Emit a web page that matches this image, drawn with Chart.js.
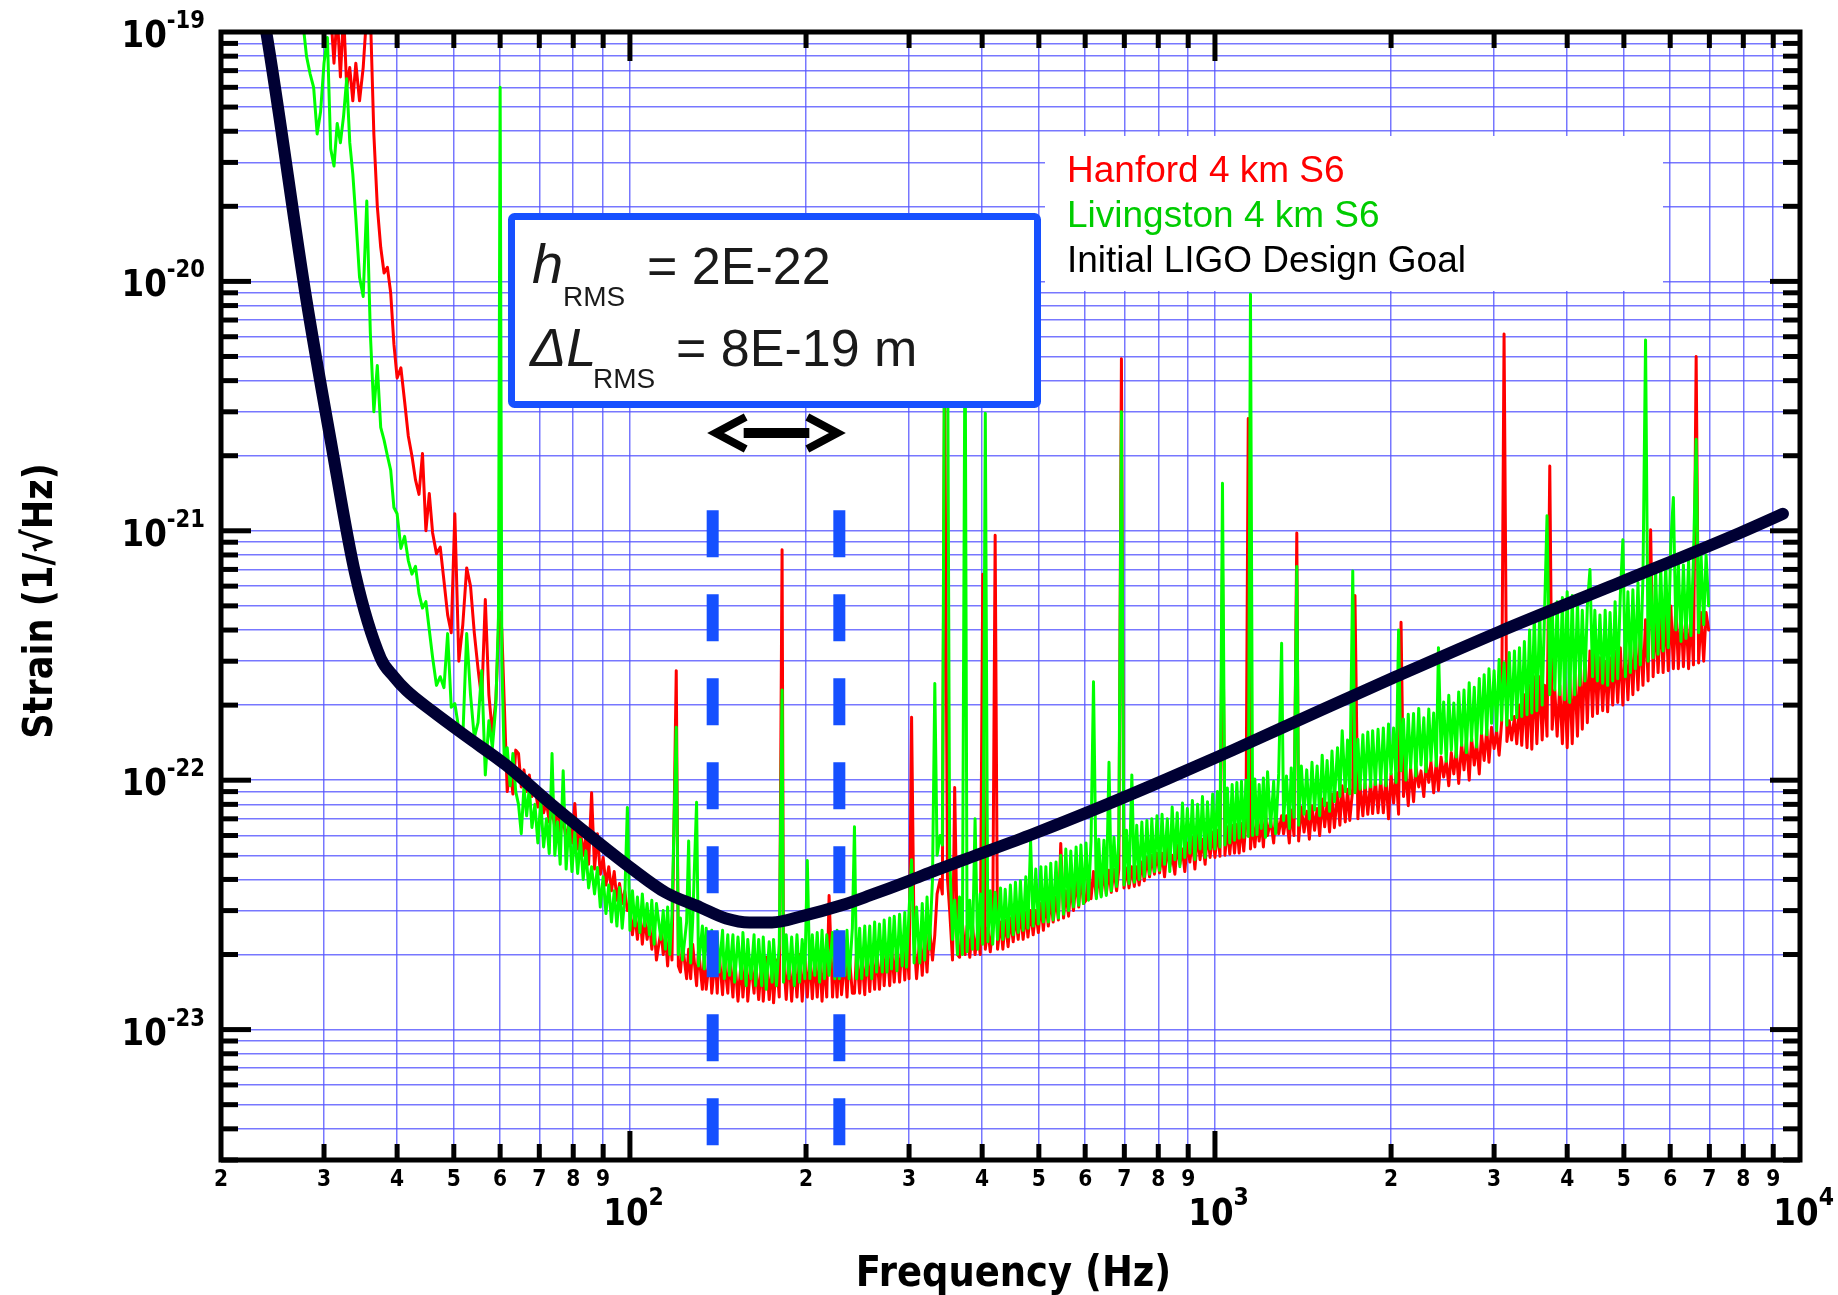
<!DOCTYPE html>
<html>
<head>
<meta charset="utf-8">
<title>LIGO S6 strain sensitivity</title>
<script src="https://cdn.jsdelivr.net/npm/chart.js@4.4.1/dist/chart.umd.min.js"></script>
<style>
    html, body { margin: 0; padding: 0; background: #fff; }
    #wrap { width: 1838px; height: 1295px; }
</style>
</head>
<body>
<div id="wrap"><canvas id="strain-chart" width="1838" height="1295"></canvas></div>
<script>
// strain values are in units of 1e-23 / sqrt(Hz), frequencies in Hz
const freqHz = [
    27.6, 28.0, 28.4, 28.8, 29.2, 29.6, 30.0, 30.4,
    30.8, 31.2, 31.6, 32.0, 32.4, 32.8, 33.2, 33.6, 34.0,
    34.5, 35.0, 35.5, 36.0, 36.5, 37.0, 37.5, 38.0, 38.5, 39.0, 39.5, 40.0,
    40.6, 41.2, 41.8, 42.4, 43.0, 43.6, 44.2, 44.8, 45.4, 46.0,
    46.7, 47.4, 48.1, 48.8, 49.5, 50.2,
    51.0, 51.8, 52.6, 53.4, 54.2, 55.0, 55.8, 56.6, 57.4, 58.2, 59.0,
    59.6, 60.0, 60.4,
    61.0, 61.7, 62.4, 63.1, 63.8, 64.5, 65.2, 65.9, 66.6, 67.3,
    68.0, 68.8, 69.6, 70.4, 71.2, 72.0, 72.8, 73.6, 74.4, 75.2,
    76.0, 76.9, 77.8, 78.7, 79.6, 80.5, 81.4, 82.3, 83.2, 84.1,
    85.0, 86.0, 87.0, 88.0, 89.0, 90.0, 91.0, 92.0, 93.0, 94.0,
    95.0, 96.0, 97.0, 98.0, 99.0,
    100, 101, 102, 103, 104, 105, 106, 107, 108, 109,
    110, 111, 113, 114, 115, 116, 117, 118, 120, 121,
    122, 123, 125, 126, 127, 128, 130, 131, 133, 134,
    135, 137, 138, 140, 141, 142, 144, 145, 147, 148,
    150, 151, 153, 155, 156, 158, 159, 161, 163, 164,
    166, 168, 169, 171, 173, 175, 176, 178, 180, 182,
    183, 185, 187, 189, 191, 193, 195, 197, 199, 201,
    203, 205, 207, 209, 211, 213, 215, 217, 219, 222,
    224, 226, 228, 230, 233, 235, 237, 240, 242, 244,
    247, 249, 252, 254, 257, 259, 262, 264, 267, 270,
    272, 275, 278, 280, 283, 286, 289, 292, 295, 297,
    300, 303, 306, 309, 313, 316, 319, 322, 325, 329,
    332, 335, 339, 342, 345, 349, 352, 356, 359, 363,
    366, 370, 374, 377, 381, 385, 389, 393, 397, 401,
    405, 409, 413, 417, 421, 425, 430, 434, 438, 443,
    447, 452, 456, 461, 465, 470, 475, 479, 484, 489,
    494, 499, 504, 509, 514, 519, 524, 529, 535, 540,
    545, 551, 556, 562, 567, 573, 579, 585, 590, 596,
    602, 608, 614, 620, 627, 633, 639, 646, 652, 659,
    665, 672, 679, 685, 692, 699, 706, 713, 721, 728,
    735, 742, 750, 757, 765, 773, 780, 788, 796, 804,
    812, 820, 829, 837, 845, 854, 862, 871, 880, 888,
    897, 906, 915, 924, 934, 943, 952, 962, 971, 981,
    991, 1000, 1010, 1020, 1030, 1040, 1050, 1060, 1070, 1080,
    1090, 1100, 1110, 1120, 1130, 1140, 1150, 1160, 1170, 1180,
    1190, 1200, 1210, 1220, 1230, 1245, 1260, 1270, 1285, 1300,
    1310, 1325, 1340, 1350, 1365, 1380, 1390, 1405, 1420, 1435,
    1450, 1465, 1480, 1495, 1510, 1525, 1540, 1555, 1570, 1585,
    1600, 1620, 1635, 1650, 1670, 1685, 1700, 1720, 1735, 1755,
    1770, 1790, 1805, 1825, 1845, 1860, 1880, 1900, 1920, 1940,
    1960, 1980, 2000, 2020, 2040, 2060, 2080, 2100, 2120, 2140,
    2160, 2185, 2205, 2230, 2250, 2275, 2295, 2320, 2340, 2365,
    2390, 2410, 2435, 2460, 2485, 2510, 2535, 2560, 2585, 2610,
    2640, 2665, 2690, 2720, 2745, 2775, 2800, 2830, 2855, 2885,
    2915, 2940, 2970, 3000, 3030, 3060, 3090, 3120, 3155, 3185,
    3215, 3250, 3280, 3315, 3345, 3380, 3415, 3450, 3480, 3515,
    3550, 3590, 3625, 3660, 3695, 3735, 3770, 3810, 3845, 3885,
    3925, 3960, 4000, 4040, 4080, 4120, 4165, 4205, 4245, 4290,
    4330, 4375, 4420, 4460, 4505, 4550, 4600, 4645, 4690, 4735,
    4785, 4830, 4880, 4930, 4980, 5030, 5080, 5130, 5180, 5230,
    5285, 5335, 5390, 5445, 5500, 5555, 5610, 5665, 5720, 5780,
    5835, 5895, 5955, 6015, 6075, 6135, 6195, 6260, 6320, 6385,
    6450, 6510, 6575, 6645, 6710, 6775, 6845, 6910, 6980
];

const hanford = [
    null, null, null, null, null, null, null, null,
    12000, 7500, 12000, 6600, 12000, 6000, 7200, 5300, 7500,
    5300, 7200, 12000, 12000, 3900, 2000, 1370, 1080, 1140, 900, 560, 410,
    450, 330, 240, 200, 160, 140, 204, 100, 141, 98,
    81, 86, 63, 46, 39, 117,
    30, 42, 71, 60, 39, 28, 21, 53, 22, 15.4, 21,
    39, 47, 40,
    20, 9.0, 11.2, 8.8, 13.2, 12.8, 9.4, 11.0, 9.0, 10.5,
    8.6, 9.5, 7.8, 8.5, 7.4, 8.2, 6.8, 7.6, 6.5, 7.8,
    6.2, 7.0, 5.8, 6.8, 5.6, 8.07, 5.3, 6.3, 5.0, 6.0,
    4.6, 8.9, 4.4, 6.1, 4.2, 4.9, 3.8, 4.5, 3.6, 4.3,
    3.3, 3.85, 3.2, 3.6, 3.0,
    3.1, 2.4, 2.9, 2.3, 3.0, 2.2, 2.8, 2.3, 2.7, 2.1,
    2.6, 1.9, 2.5, 2.0, 2.4, 1.8, 2.5, 1.9, 27.5, 1.8,
    1.7, 2.2, 1.6, 2.1, 1.6, 2.2, 1.5, 2.1, 1.45, 2.0,
    1.45, 2.0, 1.4, 1.95, 1.4, 2.05, 1.38, 1.9, 1.4, 2.0,
    1.35, 1.95, 1.3, 1.9, 1.35, 2.0, 1.3, 1.85, 1.4, 1.9,
    1.32, 1.9, 1.3, 1.95, 1.32, 1.85, 1.28, 1.9, 1.35, 84,
    1.95, 1.32, 2.0, 1.3, 1.9, 1.35, 2.0, 1.3, 1.95, 1.35,
    2.0, 1.33, 1.95, 1.35, 2.0, 1.3, 1.9, 1.35, 3.45, 1.35,
    2.0, 1.35, 2.05, 1.38, 1.95, 1.35, 2.0, 1.4, 1.4, 2.05,
    1.4, 2.0, 1.38, 2.1, 1.42, 2.05, 1.45, 2.1, 1.45, 2.15,
    1.5, 2.2, 1.5, 2.15, 1.55, 2.25, 1.55, 2.3, 1.58, 2.25,
    1.6, 17.9, 2.3, 1.6, 2.35, 1.65, 2.4, 1.7, 2.6, 1.9,
    2.4, 3.5, 4.0, 3.5, 500, 4.0, 3.0, 1.9, 9.35, 2.0,
    1.95, 2.7, 2.0, 2.6, 1.95, 2.65, 2.0, 2.5, 2.0, 67,
    2.1, 2.55, 2.05, 2.6, 96, 2.1, 2.7, 2.1, 2.75, 2.15,
    2.8, 2.25, 2.9, 2.3, 3.0, 2.3, 2.95, 2.35, 3.0, 2.4,
    3.0, 2.45, 3.2, 2.5, 3.3, 2.6, 3.4, 2.7, 3.4, 2.75,
    5.58, 2.8, 3.6, 2.85, 3.8, 3.0, 4.0, 3.1, 4.2, 3.2,
    3.3, 4.2, 3.35, 4.3, 3.4, 4.25, 3.45, 4.3, 3.5, 4.35,
    3.55, 4.4, 3.6, 4.4, 490, 3.7, 4.45, 3.7, 4.5, 3.75,
    4.5, 3.8, 4.7, 3.95, 4.9, 4.1, 5.0, 4.2, 5.1, 4.25,
    5.1, 4.1, 5.4, 4.5, 5.0, 4.2, 5.5, 4.6, 5.3, 4.3,
    5.6, 4.7, 5.9, 4.4, 6.1, 4.8, 5.8, 4.6, 6.2, 4.9,
    6.2, 4.9, 6.3, 4.95, 75, 5.0, 6.5, 5.05, 6.6, 5.1,
    6.65, 5.1, 6.7, 5.2, 6.8, 282, 5.3, 6.9, 5.4, 7.0,
    5.7, 7.1, 5.4, 7.4, 6.0, 6.9, 5.6, 7.5, 6.1, 7.2,
    6.1, 7.2, 5.6, 7.6, 6.0, 98, 5.7, 7.8, 6.2, 7.5,
    5.8, 7.9, 6.3, 7.7, 6.0, 8.4, 6.5, 8.1, 6.2, 8.8,
    6.45, 8.9, 6.6, 9.5, 6.8, 9.2, 6.9, 9.3, 55, 7.0,
    9.6, 7.2, 9.7, 7.3, 9.9, 7.35, 10.0, 7.4, 10.1, 7.4,
    10.3, 7.0, 10.6, 8.1, 10.7, 7.3, 43, 8.6, 11.0, 7.9,
    11.2, 8.2, 11.4, 9.4, 10.9, 8.6, 11.7, 9.8, 11.9, 8.9,
    12.0, 9.1, 12.4, 10.3, 12.0, 9.5, 12.9, 10.6, 13.2, 9.7,
    14.0, 11.0, 14.5, 10.0, 14.8, 11.5, 14.2, 10.6, 15.4, 12.0,
    16.0, 11.8, 16.3, 13.4, 15.8, 12.6, 17.0, 615, 14.3, 17.3,
    14.5, 18.0, 14.0, 20.0, 13.8, 22.0, 13.5, 24.0, 13.3, 26.0,
    14.0, 26.0, 14.5, 24.0, 15.0, 182, 16.0, 23.0, 15.0, 24.0,
    14.0, 26.0, 13.5, 27.0, 14.0, 28.0, 15.0, 30.0, 16.0, 32.0,
    17.0, 33.0, 18.0, 32.0, 18.5, 31.0, 19.0, 30.0, 18.8, 31.0,
    20.0, 33.0, 20.5, 34.0, 20.0, 35.0, 21.0, 36.0, 22.0, 38.0,
    23.0, 40.0, 24.0, 44.0, 25.0, 101, 26.0, 46.0, 27.0, 47.0,
    27.0, 48.0, 27.5, 50.0, 28.0, 50.0, 28.0, 48.0, 28.5, 47.0,
    28.0, 47.0, 29.0, 500, 29.5, 47.0, 30.0, 47.0, 40.0
];

const livingston = [
    11000, 8000, 6800, 6000, 3900, 4800, 7500, 9500,
    3400, 2900, 4300, 3600, 4600, 6500, 3600, 2700, 1800,
    1040, 870, 2100, 620, 300, 460, 260, 231, 200, 175, 124, 117,
    85, 95, 76, 67, 72, 56, 49, 52, 40, 31,
    24, 26, 23.5, 38.7, 19.6, 20.3,
    16, 14.8, 38.7, 22, 14.8, 17, 27.5, 10.5, 17.3, 13.5, 20,
    45, 6000, 30,
    11.7, 13.5, 9.5, 12.8, 9.0, 8.0, 6.1, 9.4, 7.2, 9.35,
    6.46, 8.0, 5.6, 8.29, 5.4, 7.0, 5.08, 12.8, 5.0, 6.8,
    4.6, 10.9, 4.4, 6.89, 4.3, 6.2, 4.23, 5.8, 4.0, 5.2,
    3.7, 4.5, 3.5, 4.47, 3.1, 4.1, 2.92, 3.8, 2.7, 3.6,
    2.6, 3.71, 2.55, 3.4, 7.78,
    2.5, 3.6, 2.6, 3.4, 2.45, 3.5, 2.6, 3.2, 2.4, 3.3,
    2.2, 3.2, 2.3, 3.0, 2.1, 3.1, 2.0, 2.9, 16.3, 2.0,
    2.8, 1.9, 2.7, 5.7, 1.85, 2.7, 8.15, 1.8, 2.6, 1.75,
    2.55, 1.7, 2.5, 1.65, 2.45, 1.7, 2.5, 1.6, 2.4, 1.65,
    2.4, 1.55, 2.35, 1.6, 2.45, 1.5, 2.3, 1.6, 2.4, 1.5,
    2.3, 1.5, 2.35, 1.45, 2.25, 1.55, 2.3, 1.5, 2.2, 23,
    1.55, 2.4, 1.6, 2.35, 1.5, 2.4, 1.55, 2.3, 1.6, 4.76,
    1.6, 2.4, 1.65, 2.45, 1.55, 2.5, 1.6, 2.4, 1.65, 2.45,
    1.6, 2.5, 1.6, 2.45, 1.65, 2.5, 1.6, 2.55, 6.5, 1.6,
    2.55, 1.6, 2.6, 1.65, 2.6, 1.6, 2.7, 1.7, 2.65, 1.7,
    2.75, 1.7, 2.8, 1.75, 2.85, 1.72, 2.9, 1.8, 2.95, 1.78,
    3.0, 4.8, 1.85, 3.1, 1.85, 3.2, 1.9, 3.4, 2.1, 4.0,
    24.4, 5.0, 6.0, 5.5, 800, 800, 5.0, 2.3, 3.3, 2.0,
    3.4, 2.0, 800, 2.05, 3.3, 2.1, 7.0, 2.1, 3.5, 2.2,
    296, 2.25, 3.6, 2.2, 3.55, 2.3, 3.7, 2.3, 3.65, 2.35,
    3.8, 2.4, 3.9, 2.45, 3.95, 2.5, 4.1, 2.55, 5.74, 2.6,
    4.4, 2.65, 4.5, 2.7, 4.5, 2.7, 4.65, 2.75, 4.7, 2.8,
    5.0, 2.9, 5.3, 3.0, 5.2, 3.1, 5.4, 3.15, 5.5, 3.2,
    5.6, 3.3, 5.7, 24.8, 3.35, 5.8, 3.4, 5.75, 3.45, 11.8,
    3.6, 5.9, 3.75, 6.0, 300, 3.8, 6.3, 3.85, 10.5, 3.9,
    6.6, 4.0, 6.8, 4.1, 6.9, 4.2, 7.0, 4.3, 7.2, 4.35,
    7.3, 4.6, 7.0, 4.3, 7.8, 4.8, 7.4, 4.5, 8.1, 4.9,
    7.7, 5.1, 8.3, 4.8, 8.0, 5.3, 8.6, 4.9, 8.2, 5.3,
    8.8, 5.3, 9.0, 5.4, 155, 5.5, 9.3, 5.6, 9.6, 5.75,
    9.8, 5.85, 9.9, 5.9, 10.0, 5.95, 888, 6.0, 10.1, 6.05,
    9.6, 6.4, 10.2, 5.9, 10.8, 6.5, 9.9, 6.1, 10.6, 35.4,
    6.9, 10.4, 6.4, 11.2, 7.1, 72, 6.6, 11.4, 7.3, 11.0,
    7.0, 11.8, 7.6, 11.4, 7.2, 12.6, 7.9, 12.0, 7.5, 13.1,
    8.2, 13.5, 8.6, 15.8, 9.0, 14.5, 8.8, 69, 8.9, 14.6,
    9.2, 15.2, 9.3, 15.6, 9.4, 15.8, 9.6, 16.0, 9.7, 16.2,
    9.5, 16.8, 10.6, 16.2, 9.8, 40, 10.9, 17.6, 10.0, 18.4,
    11.2, 18.5, 10.4, 19.4, 11.5, 17.8, 10.8, 19.3, 12.0, 18.6,
    11.4, 34, 12.8, 20.6, 11.9, 21.9, 13.2, 20.4, 12.4, 22.6,
    13.8, 23.0, 12.9, 24.6, 14.4, 23.6, 13.6, 25.6, 15.4, 26.5,
    15.2, 28.0, 16.9, 27.5, 15.8, 30.5, 17.4, 29.6, 16.6, 32.5,
    17.5, 33.0, 17.8, 34.0, 18.0, 36.0, 18.3, 40.0, 18.6, 46.0,
    19.0, 47.0, 20.0, 48.0, 115, 22.0, 50.0, 23.0, 52.0, 22.0,
    54.0, 21.0, 57.0, 20.5, 55.0, 22.0, 52.0, 24.0, 48.0, 25.0,
    50.0, 70.0, 26.0, 48.0, 25.0, 46.0, 24.5, 48.0, 24.0, 47.0,
    25.0, 52.0, 25.5, 55.0, 92.0, 26.0, 57.0, 27.0, 58.0, 28.0,
    62.0, 29.0, 65.0, 582, 30.0, 68.0, 31.0, 70.0, 32.0, 72.0,
    33.0, 73.0, 34.0, 90.0, 136, 40.0, 74.0, 36.0, 73.0, 37.0,
    76.0, 38.0, 78.0, 233, 39.0, 80.0, 42.0, 80.0, 50.0
];

// initial LIGO design goal
const goalHz = [23.4, 23.9, 28, 30.8, 33.9, 37.5, 39.5, 41.5, 46.1, 52.5,
    61.4, 73, 86.5, 101, 115, 132, 146, 160, 175, 197,
    230, 257, 300, 333, 377, 490, 637, 827, 1073, 1510,
    2000, 3070, 5000, 7890, 9350];
const goalStrain = [13000, 10000, 840, 230, 67.5, 30.8, 26, 22.9, 18.8, 15.0,
    11.5, 8.1, 5.85, 4.4, 3.55, 3.09, 2.79, 2.69, 2.69, 2.85,
    3.15, 3.45, 3.95, 4.35, 4.85, 6.1, 7.8, 10.1, 13.2, 19.0,
    25.5, 39.5, 63, 98, 117];

// band edges of the dashed markers
const bandHz = [138.5, 228];
const bandStrain = [121, 0.34];

const yDecadeExp = [-19, -20, -21, -22, -23];
const xDecadeExp = [2, 3, 4];
const xDigits = [2, 3, 4, 5, 6, 7, 8, 9];

const legendItems = ['Hanford 4 km S6', 'Livingston 4 km S6', 'Initial LIGO Design Goal'];
const legendColors = ['#ff0000', '#00cc00', '#000000'];

const toPoints = (xsArr, ysArr) => xsArr.map((x, i) => ({ x: x, y: ysArr[i] })).filter(p => p.y != null);

// grid positions: 1..9 x 10^n
let gridX = [];
for (let e = 1; e <= 3; e++) {
    for (let d = 1; d <= 9; d++) {
        let v = d * Math.pow(10, e);
        if (v >= 20) gridX.push(v);
    }
}
gridX.push(10000);
let gridY = [];
for (let e = -1; e <= 3; e++) {
    for (let d = 1; d <= 9; d++) {
        let v = d * Math.pow(10, e);
        if (v >= 0.3) gridY.push(v);
    }
}
gridY.push(10000);

const isDecade = v => Math.abs(Math.log10(v) - Math.round(Math.log10(v))) < 1e-6;

function boldText(ctx, txt, x, y, size, align) {
    ctx.save();
    ctx.font = 'bold ' + size + 'px "DejaVu Sans"';
    const w = ctx.measureText(txt).width * 0.88;
    let x0 = x;
    if (align === 'center') x0 = x - w / 2;
    if (align === 'right') x0 = x - w;
    ctx.translate(x0, y);
    ctx.scale(0.88, 1);
    ctx.textAlign = 'left';
    ctx.textBaseline = 'alphabetic';
    ctx.fillStyle = '#000';
    ctx.fillText(txt, 0, 0);
    ctx.restore();
    return w;
}

function plainText(ctx, txt, x, y, font, color) {
    ctx.font = font;
    ctx.fillStyle = color;
    ctx.fillText(txt, x, y);
    return ctx.measureText(txt).width;
}

const decor = {
    id: 'decor',
    beforeDatasetsDraw(chart) {
        const ctx = chart.ctx;
        ctx.save();
        ctx.fillStyle = '#fff';
        ctx.fillRect(1045, 136, 618, 155);
        ctx.restore();
    },
    afterDatasetsDraw(chart) {
        const ctx = chart.ctx;
        const ca = chart.chartArea;
        const xs = chart.scales.x;
        const ys = chart.scales.y;
        ctx.save();
        ctx.textBaseline = 'alphabetic';
        ctx.textAlign = 'left';

        // annotation box
        ctx.fillStyle = '#fff';
        ctx.strokeStyle = '#1650ff';
        ctx.lineWidth = 7;
        ctx.beginPath();
        ctx.roundRect(511.5, 216.5, 526, 188, 3);
        ctx.fill();
        ctx.stroke();

        const ink = '#1a1a1a';
        plainText(ctx, 'h', 532, 283, 'italic 56px "Liberation Sans"', ink);
        plainText(ctx, 'RMS', 563, 306, '28px "Liberation Sans"', ink);
        plainText(ctx, '= 2E-22', 647, 284, '52px "Liberation Sans"', ink);
        plainText(ctx, '\u0394L', 530, 366, 'italic 54px "Liberation Sans"', ink);
        plainText(ctx, 'RMS', 593, 388, '28px "Liberation Sans"', ink);
        plainText(ctx, '= 8E-19 m', 676, 366, '52px "Liberation Sans"', ink);

        // double arrow over the band
        const ax0 = xs.getPixelForValue(bandHz[0]) + 3;
        const ax1 = xs.getPixelForValue(bandHz[1]) - 2;
        const ay = 433;
        ctx.strokeStyle = '#000';
        ctx.lineWidth = 8;
        ctx.lineJoin = 'miter';
        ctx.beginPath();
        ctx.moveTo(ax0 + 30, ay - 16);
        ctx.lineTo(ax0, ay);
        ctx.lineTo(ax0 + 30, ay + 16);
        ctx.moveTo(ax1 - 30, ay - 16);
        ctx.lineTo(ax1, ay);
        ctx.lineTo(ax1 - 30, ay + 16);
        ctx.stroke();
        ctx.lineWidth = 10;
        ctx.beginPath();
        ctx.moveTo(ax0 + 28, ay);
        ctx.lineTo(ax1 - 28, ay);
        ctx.stroke();

        // legend text
        legendItems.forEach((t, i) => {
            plainText(ctx, t, 1067, 182 + i * 45, '37px "Liberation Sans"', legendColors[i]);
        });

        // frame and inward ticks
        ctx.fillStyle = '#000';
        ctx.strokeStyle = '#000';
        ctx.lineWidth = 5;
        ctx.strokeRect(ca.left, ca.top, ca.right - ca.left, ca.bottom - ca.top);
        for (let v of gridX) {
            if (v <= 20 || v >= 10000) continue;
            const px = xs.getPixelForValue(v);
            const len = isDecade(v) ? 29 : 16;
            ctx.fillRect(px - 2.5, ca.bottom - len, 5, len);
            ctx.fillRect(px - 2.5, ca.top, 5, len);
        }
        for (let v of gridY) {
            if (v <= 0.3 || v >= 10000) continue;
            const py = ys.getPixelForValue(v);
            const len = isDecade(v) ? 30 : 17;
            ctx.fillRect(ca.left, py - 2.5, len, 5);
            ctx.fillRect(ca.right - len, py - 2.5, len, 5);
        }

        // x tick labels
        for (let e = 1; e <= 3; e++) {
            for (let d of xDigits) {
                const v = d * Math.pow(10, e);
                boldText(ctx, String(d), xs.getPixelForValue(v), 1186, 23, 'center');
            }
        }
        for (let e of xDecadeExp) {
            const px = xs.getPixelForValue(Math.pow(10, e)) - 4;
            const w = boldText(ctx, '10', px, 1225, 37, 'center');
            boldText(ctx, String(e), px + w / 2, 1205, 25, 'left');
        }

        // y tick labels
        for (let e of yDecadeExp) {
            const py = ys.getPixelForValue(Math.pow(10, e + 23));
            const w = boldText(ctx, String(e), 205, py - 4, 24, 'right');
            boldText(ctx, '10', 205 - w, py + 15, 37, 'right');
        }

        // axis titles
        boldText(ctx, 'Frequency (Hz)', (ca.left + ca.right) / 2 + 3, 1286, 42, 'center');
        ctx.save();
        ctx.translate(52, (ca.top + ca.bottom) / 2 + 5);
        ctx.rotate(-Math.PI / 2);
        boldText(ctx, 'Strain (1/\u221AHz)', 0, 0, 40, 'center');
        ctx.restore();

        ctx.restore();
    }
};

const lineStyle = {
    pointRadius: 0,
    clip: 0,
    tension: 0,
    borderJoinStyle: 'round',
    borderCapStyle: 'round'
};

let ctx = document.getElementById('strain-chart').getContext('2d');
// eslint-disable-next-line no-undef
new Chart(ctx, {
    type: 'line',
    data: {
        datasets: [
            Object.assign({}, lineStyle, {
                label: 'Initial LIGO Design Goal',
                data: toPoints(goalHz, goalStrain),
                borderColor: '#000033',
                borderWidth: 12,
                cubicInterpolationMode: 'monotone'
            }),
            Object.assign({}, lineStyle, {
                label: 'band low edge',
                data: toPoints([bandHz[0], bandHz[0]], bandStrain),
                borderColor: '#1650ff',
                borderWidth: 12,
                borderCapStyle: 'butt',
                borderDash: [47, 37]
            }),
            Object.assign({}, lineStyle, {
                label: 'band high edge',
                data: toPoints([bandHz[1], bandHz[1]], bandStrain),
                borderColor: '#1650ff',
                borderWidth: 12,
                borderCapStyle: 'butt',
                borderDash: [47, 37]
            }),
            Object.assign({}, lineStyle, {
                label: 'Livingston 4 km S6',
                data: toPoints(freqHz, livingston),
                borderColor: '#00ff00',
                borderWidth: 3
            }),
            Object.assign({}, lineStyle, {
                label: 'Hanford 4 km S6',
                data: toPoints(freqHz, hanford),
                borderColor: '#ff0000',
                borderWidth: 3
            })
        ]
    },
    options: {
        responsive: false,
        devicePixelRatio: 1,
        animation: false,
        layout: { padding: { top: 32, right: 38, left: 0, bottom: 0 } },
        plugins: {
            legend: { display: false },
            tooltip: { enabled: false }
        },
        scales: {
            x: {
                type: 'logarithmic',
                min: 20,
                max: 10000,
                afterBuildTicks: s => { s.ticks = gridX.map(v => ({ value: v })); },
                afterFit: s => { s.height = 135; },
                ticks: { display: false },
                border: { display: false },
                grid: { color: 'rgba(85,85,255,0.8)', lineWidth: 1.5, drawTicks: false }
            },
            y: {
                type: 'logarithmic',
                min: 0.3,
                max: 10000,
                afterBuildTicks: s => { s.ticks = gridY.map(v => ({ value: v })); },
                afterFit: s => { s.width = 221; },
                ticks: { display: false },
                border: { display: false },
                grid: { color: 'rgba(85,85,255,0.8)', lineWidth: 1.5, drawTicks: false }
            }
        }
    },
    plugins: [decor]
});
</script>
</body>
</html>
